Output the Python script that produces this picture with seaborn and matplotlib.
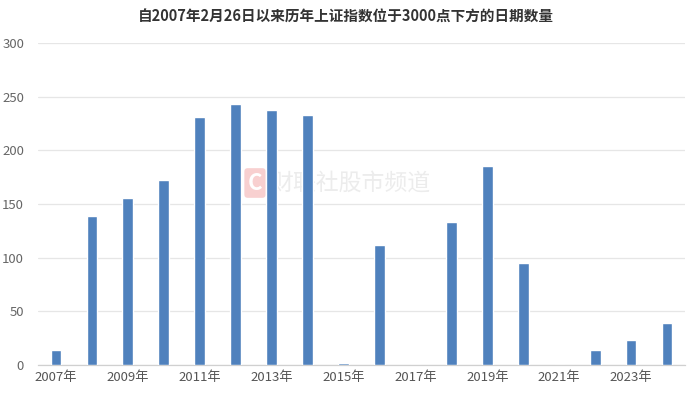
import matplotlib
matplotlib.use("Agg")
import matplotlib.pyplot as plt
import seaborn as sns
import pandas as pd

years = [2007, 2008, 2009, 2010, 2011, 2012, 2013, 2014, 2015, 2016,
         2017, 2018, 2019, 2020, 2021, 2022, 2023, 2024]
days = [14, 139, 156, 172, 231, 243, 238, 233, 2, 112,
        0, 133, 185, 95, 0, 14, 23, 39]
title = "自2007年2月26日以来历年上证指数位于3000点下方的日期数量"
yticks = [0, 50, 100, 150, 200, 250, 300]

sns.set_theme(style="white")
plt.rcParams['font.family'] = ['Noto Sans CJK SC', 'DejaVu Sans']

df = pd.DataFrame({"year": [f"{y}年" for y in years], "days": days})

fig = plt.figure(figsize=(6.92, 3.97), dpi=100)
ax = fig.add_axes([38/692, 1-365/397, (685-38)/692, (365-43)/397])

sns.barplot(data=df, x="year", y="days", color="#4F81BD", saturation=1,
            width=0.3, ax=ax, zorder=3)

ax.set_ylim(0, 300)
ax.set_xlim(-0.5, len(years) - 0.5)
ax.set_yticks(yticks)
ax.set_yticklabels([str(t) for t in yticks], color="#666666", fontsize=9.5)
ax.yaxis.grid(True, color="#e6e6e6", linewidth=0.9, zorder=0)
ax.set_axisbelow(True)

xt = list(range(0, len(years), 2))
ax.set_xticks(xt)
ax.set_xticklabels([f"{years[i]}年" for i in xt], color="#555555", fontsize=9.5)
ax.tick_params(axis="both", length=0, pad=4)
ax.tick_params(axis="y", pad=10)

for s in ["top", "right", "left"]:
    ax.spines[s].set_visible(False)
ax.spines["bottom"].set_color("#d0d0d0")
ax.spines["bottom"].set_linewidth(0.9)
ax.set_xlabel("")
ax.set_ylabel("")

fig.text(0.5, 1 - 17/397, title, ha="center", va="center",
         fontsize=10.5, fontweight="bold", color="#333333")

# watermark (behind bars)
ax.text(255/692, 1 - 183/397, "C", ha="center", va="center", fontsize=16,
        fontweight="bold", color="white", transform=fig.transFigure, zorder=1,
        bbox=dict(boxstyle="round,pad=0.15", fc="#f8d0d0", ec="none"))
ax.text(270/692, 1 - 183/397, "财联社股市频道", ha="left", va="center",
        fontsize=16.5, color="#ececec", transform=fig.transFigure, zorder=1)

fig.savefig("out.png", dpi=100)
